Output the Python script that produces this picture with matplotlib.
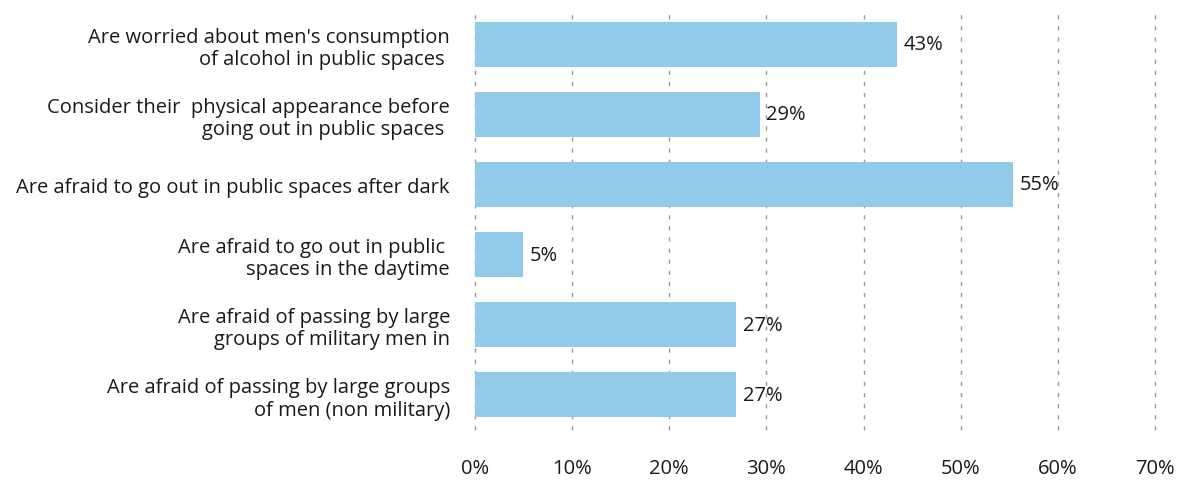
import matplotlib.pyplot as plt
from matplotlib.ticker import FuncFormatter

plt.rcParams['font.family'] = ['Open Sans', 'DejaVu Sans']

Categories = [
    "Are worried about men's consumption\nof alcohol in public spaces ",
    "Consider their  physical appearance before\ngoing out in public spaces ",
    "Are afraid to go out in public spaces after dark",
    "Are afraid to go out in public \nspaces in the daytime",
    "Are afraid of passing by large\ngroups of military men in",
    "Are afraid of passing by large groups\nof men (non military)",
]
Values = [43.4, 29.3, 55.4, 4.9, 26.9, 26.9]
Labels = ["43%", "29%", "55%", "5%", "27%", "27%"]
Ticks = [0, 10, 20, 30, 40, 50, 60, 70]

fs = 14.5

fig = plt.figure(figsize=(11.89, 4.81), dpi=100)
ax = fig.add_axes([475/1189, 1 - 431/481, 680/1189, 421/481])

y = list(range(len(Categories)))
ax.barh(y, Values, height=0.64, color='#92CBEA', zorder=3)

for yi, v, lab in zip(y, Values, Labels):
    ax.text(v + 0.7, yi, lab, va='center', ha='left', fontsize=fs, color='#1a1a1a')

ax.set_xlim(0, 70)
ax.set_ylim(5.5, -0.5)
ax.set_xticks(Ticks)
ax.xaxis.set_major_formatter(FuncFormatter(lambda x, p: f"{x:.0f}%"))
ax.set_yticks(y)
ax.set_yticklabels(Categories, fontsize=fs, color='#1a1a1a', ha='right', linespacing=1.15)
ax.tick_params(axis='x', length=0, pad=20, labelsize=fs, labelcolor='#1a1a1a')
ax.tick_params(axis='y', length=0, pad=18)

for s in ax.spines.values():
    s.set_visible(False)

ax.grid(axis='x', color='#9a9a9a', linestyle=(0, (3, 5)), linewidth=1, zorder=0)
for gl in ax.get_xgridlines():
    gl.set_clip_on(False)
ax.set_axisbelow(True)

fig.savefig("out.png", dpi=100)
